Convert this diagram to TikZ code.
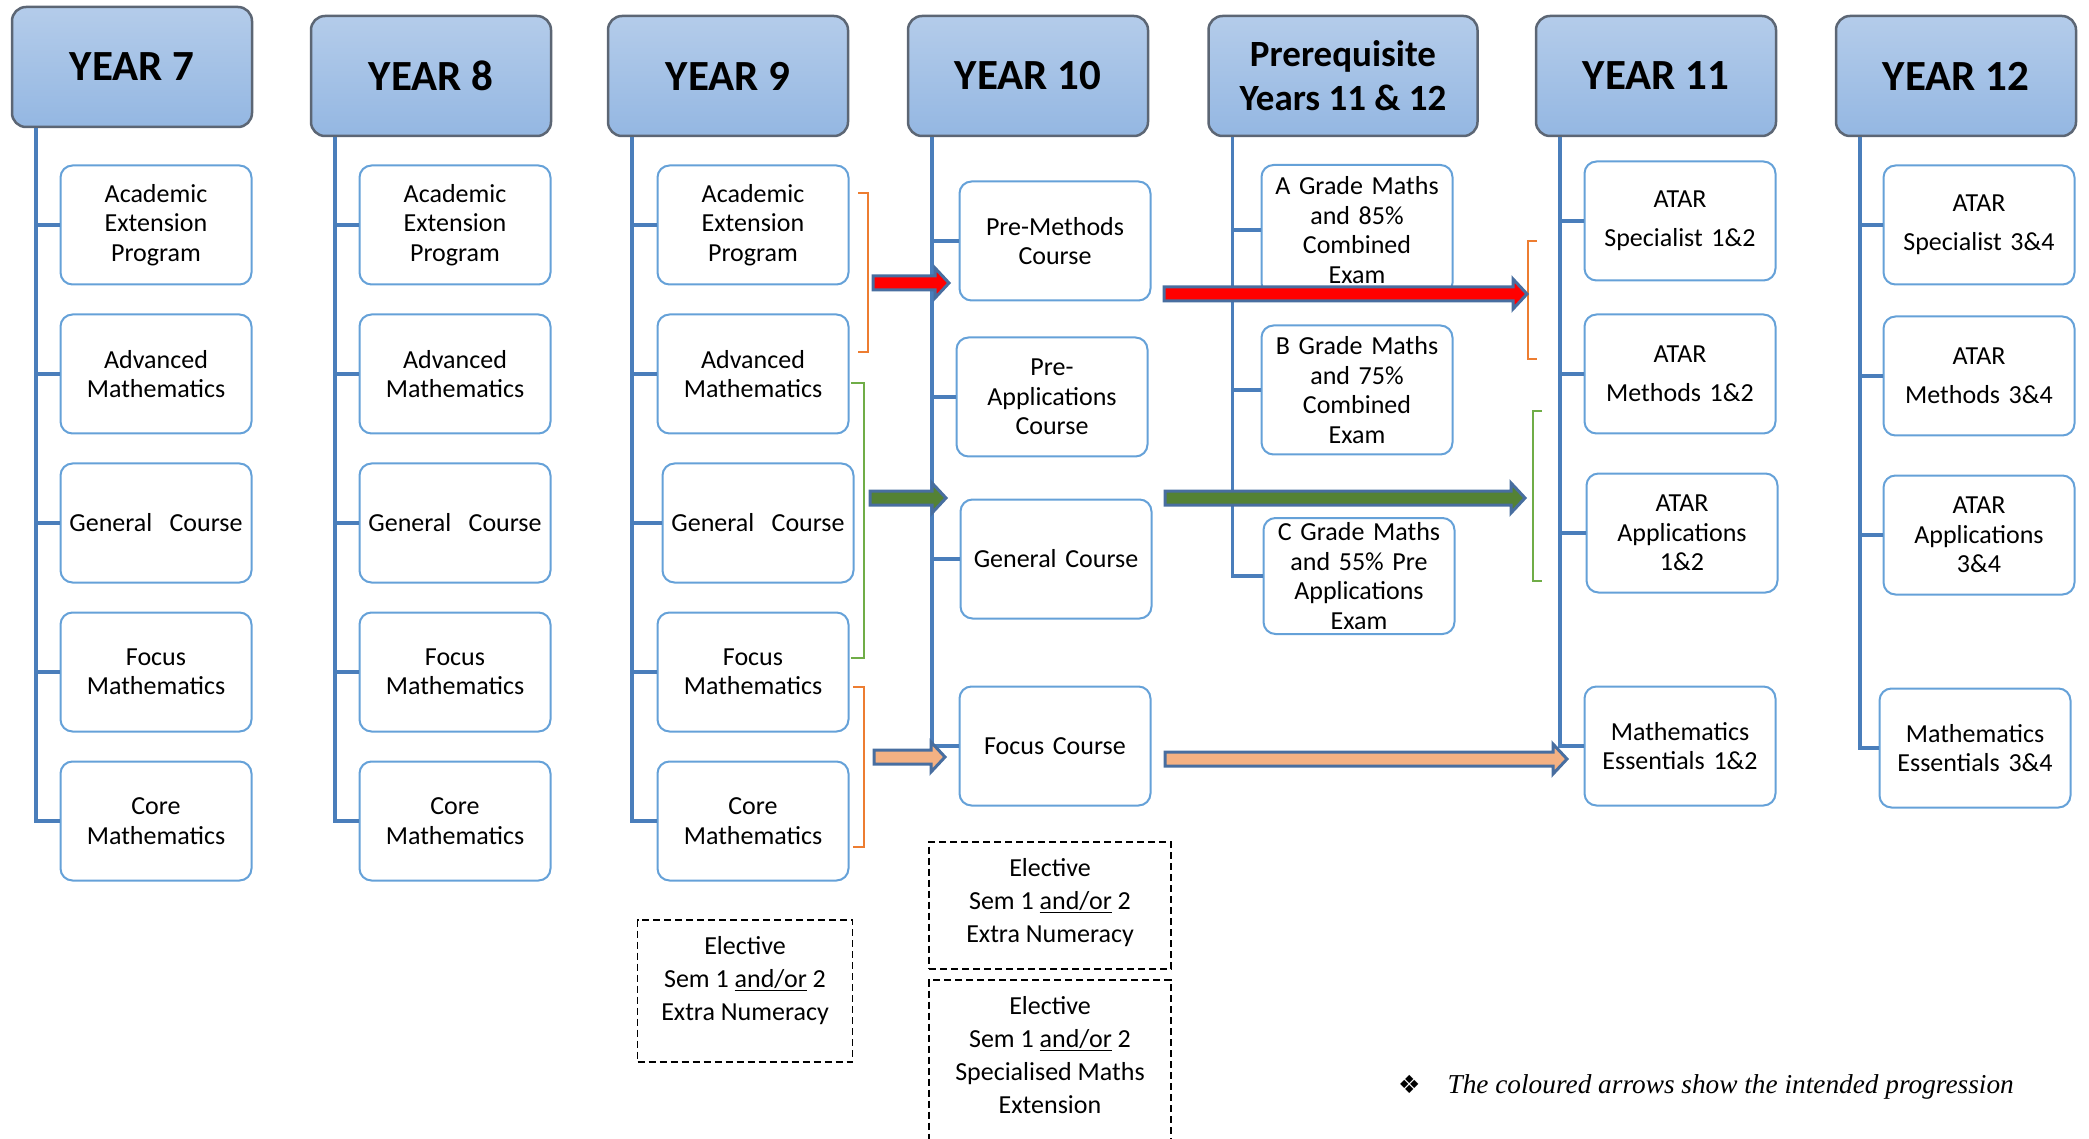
\documentclass[tikz,border=0pt]{standalone}
\usepackage{fontspec}
\setmainfont{Carlito}
\newfontfamily\notefont{Liberation Serif}
\newfontfamily\symfont{DejaVu Sans}
\usepackage{xcolor}
\usepackage{tikz}
\usetikzlibrary{positioning, calc}

\definecolor{hdtop}{RGB}{180,204,234}
\definecolor{hdbot}{RGB}{148,183,226}
\definecolor{hdline}{RGB}{92,102,116}
\definecolor{boxline}{RGB}{101,161,216}
\definecolor{trunkblue}{RGB}{74,126,187}
\definecolor{arrowline}{RGB}{72,110,160}
\definecolor{redarrow}{RGB}{255,0,0}
\definecolor{greenarrow}{RGB}{84,130,53}
\definecolor{peacharrow}{RGB}{244,177,131}
\definecolor{orangebr}{RGB}{237,125,49}
\definecolor{greenbr}{RGB}{112,173,71}

\begin{document}
\begin{tikzpicture}[x=1pt, y=-1pt, node distance=149pt, on grid,
    header/.style={draw=hdline, line width=2.5pt, rounded corners=14pt,
      top color=hdtop, bottom color=hdbot, minimum width=240pt,
      minimum height=120pt, align=center,
      font=\fontsize{43}{48}\selectfont\bfseries},
    course/.style={draw=boxline, line width=2pt, rounded corners=12pt,
      fill=white, minimum width=191pt, minimum height=119pt,
      text width=188pt, inner sep=0pt, align=center,
      font=\fontsize{26}{29.5}\selectfont},
    elective/.style={draw, line width=1.5pt, dash pattern=on 7pt off 4pt,
      anchor=north, minimum width=242pt, inner xsep=0pt, inner ysep=17pt,
      align=center, font=\fontsize{26}{33}\selectfont},
    trunk/.style={draw=trunkblue, line width=3.5pt},
    progress/.style={draw=arrowline, line width=3pt, line join=miter,
      to path={let \p1=(\tikztostart), \p2=(\tikztotarget) in
        (\x1,\y1+7pt) -- (\x2-14pt,\y1+7pt) -- (\x2-14pt,\y1+15pt)
        -- (\x2,\y1) -- (\x2-14pt,\y1-15pt) -- (\x2-14pt,\y1-7pt)
        -- (\x1,\y1-7pt) -- cycle}},
    bracket/.style={line width=1.5pt}]
  \useasboundingbox (0,0) rectangle (2089,1139);

  % year headers
  \node[header] (y7) at (132,67) {YEAR 7};
  \node[header] (y8) at (431,76) {YEAR 8};
  \node[header] (y9) at (728,76) {YEAR 9};
  \node[header] (y10) at (1028,76) {YEAR 10};
  \node[header, minimum width=269pt,
    font=\fontsize{37}{44}\selectfont\bfseries] (pre) at (1343,76)
    {Prerequisite\\Years 11 \& 12};
  \node[header] (y11) at (1656,76) {YEAR 11};
  \node[header] (y12) at (1956,76) {YEAR 12};

  % year 7
  \node[course] (y7a) at (156,225) {Academic\\Extension\\Program};
  \node[course, below=of y7a] (y7b) {Advanced\\Mathematics};
  \node[course, below=of y7b] (y7c) {General~~Course};
  \node[course, below=of y7c] (y7d) {Focus\\Mathematics};
  \node[course, below=of y7d] (y7e) {Core\\Mathematics};

  % year 8
  \node[course] (y8a) at (455,225) {Academic\\Extension\\Program};
  \node[course, below=of y8a] (y8b) {Advanced\\Mathematics};
  \node[course, below=of y8b] (y8c) {General~~Course};
  \node[course, below=of y8c] (y8d) {Focus\\Mathematics};
  \node[course, below=of y8d] (y8e) {Core\\Mathematics};

  % year 9
  \node[course] (y9a) at (753,225) {Academic\\Extension\\Program};
  \node[course, below=of y9a] (y9b) {Advanced\\Mathematics};
  \node[course, below=of y9b, xshift=5pt] (y9c) {General~~Course};
  \node[course, below=of y9c, xshift=-5pt] (y9d) {Focus\\Mathematics};
  \node[course, below=of y9d] (y9e) {Core\\Mathematics};

  % year 10
  \node[course] (y10a) at (1055,241) {Pre-Methods\\Course};
  \node[course] (y10b) at (1052,397) {Pre-\\Applications\\Course};
  \node[course] (y10c) at (1056,559) {General Course};
  \node[course] (y10d) at (1055,746) {Focus Course};

  % prerequisites
  \node[course, minimum height=130pt] (prea) at (1357,230)
    {A Grade Maths\\and 85\%\\Combined\\Exam};
  \node[course, minimum height=129pt] (preb) at (1357,390)
    {B Grade Maths\\and 75\%\\Combined\\Exam};
  \node[course, minimum height=116pt] (prec) at (1359,576)
    {C Grade Maths\\and 55\% Pre\\Applications\\Exam};

  % year 11
  \node[course] (y11a) at (1680,221) {ATAR\\[10pt]Specialist 1\&2};
  \node[course] (y11b) at (1680,374) {ATAR\\[10pt]Methods 1\&2};
  \node[course] (y11c) at (1682,533) {ATAR\\Applications\\1\&2};
  \node[course] (y11d) at (1680,746) {Mathematics\\Essentials 1\&2};

  % year 12
  \node[course] (y12a) at (1979,225) {ATAR\\[10pt]Specialist 3\&4};
  \node[course] (y12b) at (1979,376) {ATAR\\[10pt]Methods 3\&4};
  \node[course] (y12c) at (1979,535) {ATAR\\Applications\\3\&4};
  \node[course] (y12d) at (1975,748) {Mathematics\\Essentials 3\&4};

  % electives
  \node[elective, minimum width=215pt] (e9) at (745,919)
    {Elective\\Sem 1 \underline{and/or} 2\\Extra Numeracy\rule[-24pt]{0pt}{24pt}};
  \node[elective] (e10a) at (1050,841)
    {Elective\\Sem 1 \underline{and/or} 2\\Extra Numeracy\rule[-9pt]{0pt}{9pt}};
  \node[elective] (e10b) at (1050,979)
    {Elective\\Sem 1 \underline{and/or} 2\\Specialised Maths\\Extension\rule[-80pt]{0pt}{80pt}};

  % tree lines
  \foreach \c/\n in {y7/e,y8/e,y9/e,y10/d,pre/c,y11/d,y12/d}{
    \coordinate (t\c) at ([xshift=25pt]\c.south west);
    \draw[trunk] (t\c) |- (\c\n.west);
    \foreach \k in {a,...,\n}
      \draw[trunk] (\c\k.west) -- (\c\k.west -| t\c);
  }

  % brackets
  \draw[bracket, draw=orangebr] (858,193) -| (868,352) -- (858,352);
  \draw[bracket, draw=greenbr] (851,383) -| (864,658) -- (851,658);
  \draw[bracket, draw=orangebr] (853,687) -| (864,847) -- (853,847);
  \draw[bracket, draw=orangebr] (1537,241) -| (1528,359) -- (1537,359);
  \draw[bracket, draw=greenbr] (1542,411) -| (1533,581) -- (1542,581);

  % progression arrows
  \coordinate (rs1) at (873,283);  \coordinate (re1) at (949,283);
  \coordinate (rs2) at (1164,294); \coordinate (re2) at (1527,294);
  \coordinate (gs1) at (870,498);  \coordinate (ge1) at (946,498);
  \coordinate (gs2) at (1165,498); \coordinate (ge2) at (1525,498);
  \coordinate (os1) at (874,757);  \coordinate (oe1) at (945,757);
  \coordinate (os2) at (1165,759); \coordinate (oe2) at (1567,759);
  \draw[progress, fill=redarrow] (rs1) to (re1);
  \draw[progress, fill=redarrow] (rs2) to (re2);
  \draw[progress, fill=greenarrow] (gs1) to (ge1);
  \draw[progress, fill=greenarrow] (gs2) to (ge2);
  \draw[progress, fill=peacharrow] (os1) to (oe1);
  \draw[progress, fill=peacharrow] (os2) to (oe2);

  % note
  \node[anchor=base west, inner sep=0pt] (note) at (1398,1093)
    {{\symfont\fontsize{25}{25}\selectfont ❖}\hspace{27pt}{\notefont\itshape\fontsize{27.3}{30}\selectfont The coloured arrows show the intended progression}};
\end{tikzpicture}
\end{document}
